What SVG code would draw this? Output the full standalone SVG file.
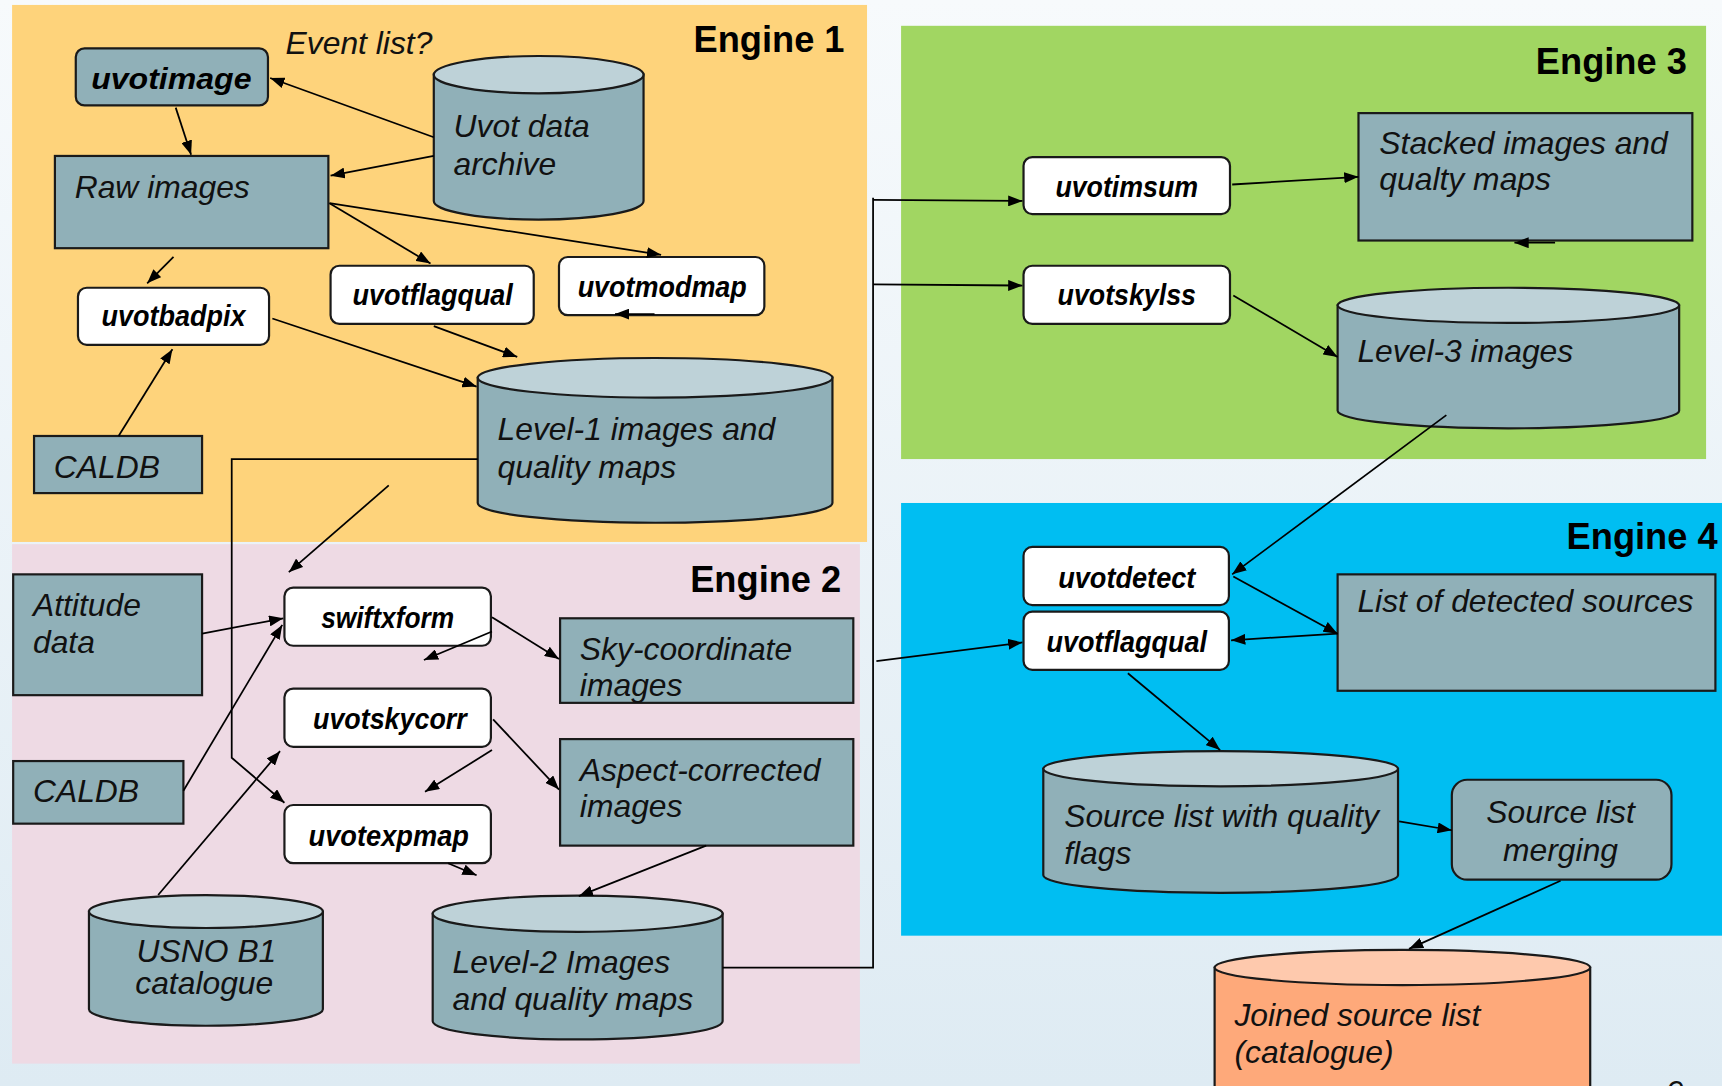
<svg xmlns="http://www.w3.org/2000/svg" width="1722" height="1086" viewBox="0 0 1722 1086">
<defs>
<linearGradient id="bg" x1="0" y1="0" x2="0" y2="1">
<stop offset="0" stop-color="#f7fafc"/>
<stop offset="1" stop-color="#deebf3"/>
</linearGradient>
<marker id="ah" viewBox="0 0 13 10" refX="13" refY="5" markerWidth="13" markerHeight="10" markerUnits="userSpaceOnUse" orient="auto">
<path d="M0,0 L13,5 L0,10 Z" fill="#000"/>
</marker>
<style>
.panel{stroke:none}
.box{fill:#90b0b8;stroke:#1a1a1a;stroke-width:2}
.proc{fill:#ffffff;stroke:#1a1a1a;stroke-width:2}
.cylb{fill:#90b0b8;stroke:#1a1a1a;stroke-width:2}
.cylt{fill:#bed2d8;stroke:#1a1a1a;stroke-width:2}
.ocylb{fill:#fea97a;stroke:#1a1a1a;stroke-width:2}
.ocylt{fill:#fec9ad;stroke:#1a1a1a;stroke-width:2}
.t{font-family:"Liberation Sans",Arial,sans-serif;font-style:italic;font-size:29px;fill:#111}
.p{font-family:"Liberation Sans",Arial,sans-serif;font-style:italic;font-weight:bold;font-size:27px;fill:#000;text-anchor:middle}
.eng{font-family:"Liberation Sans",Arial,sans-serif;font-weight:bold;font-size:33px;fill:#000;text-anchor:end}
.c{fill:none;stroke:#000;stroke-width:1.6}
.ca{fill:none;stroke:#000;stroke-width:1.6;marker-end:url(#ah)}
</style>
</defs>
<rect x="0" y="0" width="1722" height="1086" fill="url(#bg)"/>
<g transform="scale(1.09821)">
<g id="panels">
<rect id="engine1" class="panel" x="11" y="4.5" width="778.5" height="489" fill="#fed37b"/>
<rect id="engine2" class="panel" x="11" y="495.5" width="772" height="473" fill="#eedae4"/>
<rect id="engine3" class="panel" x="820.5" y="23.5" width="733" height="394.5" fill="#a1d662"/>
<rect id="engine4" class="panel" x="820.5" y="458" width="760" height="394" fill="#00bef2"/>
<text class="eng" x="769" y="47">Engine 1</text>
<text class="eng" x="766" y="539">Engine 2</text>
<text class="eng" x="1536" y="67">Engine 3</text>
<text class="eng" x="1564" y="500">Engine 4</text>
</g>

<g id="uvotimage"><rect class="box" x="69" y="44" width="175" height="52" rx="8"/><text class="p" x="156" y="81" font-size="29" textLength="146" lengthAdjust="spacingAndGlyphs">uvotimage</text></g>
<g id="eventlist"><text class="t" x="260" y="49">Event list?</text></g>
<g id="uvotarchive"><path class="cylb" d="M395,68 L395,183 A95.5,17 0 0 0 586,183 L586,68 Z"/><ellipse class="cylt" cx="490.5" cy="68" rx="95.5" ry="17"/><text class="t" x="413" y="125">Uvot data</text><text class="t" x="413" y="159">archive</text></g>
<g id="rawimages"><rect class="box" x="50" y="142" width="249" height="84"/><text class="t" x="68" y="180">Raw images</text></g>
<g id="uvotbadpix"><rect class="proc" x="71" y="262" width="174" height="52" rx="8"/><text class="p" x="158" y="297" textLength="131" lengthAdjust="spacingAndGlyphs">uvotbadpix</text></g>
<g id="uvotflagqual1"><rect class="proc" x="301" y="242" width="185" height="53" rx="8"/><text class="p" x="394" y="278" textLength="146" lengthAdjust="spacingAndGlyphs">uvotflagqual</text></g>
<g id="uvotmodmap"><rect class="proc" x="509" y="234" width="187" height="53" rx="8"/><text class="p" x="603" y="270" textLength="154" lengthAdjust="spacingAndGlyphs">uvotmodmap</text></g>
<g id="caldb1"><rect class="box" x="31" y="397" width="153" height="52"/><text class="t" x="49" y="435">CALDB</text></g>
<g id="level1"><path class="cylb" d="M435,344 L435,458 A161.5,18 0 0 0 758,458 L758,344 Z"/><ellipse class="cylt" cx="596.5" cy="344" rx="161.5" ry="18"/><text class="t" x="453" y="401">Level-1 images and</text><text class="t" x="453" y="435">quality maps</text></g>

<g id="attitude"><rect class="box" x="12" y="523" width="172" height="110"/><text class="t" x="30" y="561">Attitude</text><text class="t" x="30" y="595">data</text></g>
<g id="caldb2"><rect class="box" x="12" y="693" width="155" height="57"/><text class="t" x="30" y="730">CALDB</text></g>
<g id="swiftxform"><rect class="proc" x="259" y="535" width="188" height="53" rx="8"/><text class="p" x="353" y="572" textLength="121" lengthAdjust="spacingAndGlyphs">swiftxform</text></g>
<g id="uvotskycorr"><rect class="proc" x="259" y="627" width="188" height="53" rx="8"/><text class="p" x="355" y="664" textLength="140" lengthAdjust="spacingAndGlyphs">uvotskycorr</text></g>
<g id="uvotexpmap"><rect class="proc" x="259" y="733" width="188" height="53" rx="8"/><text class="p" x="354" y="770" textLength="146" lengthAdjust="spacingAndGlyphs">uvotexpmap</text></g>
<g id="skycoord"><rect class="box" x="510" y="563" width="267" height="77"/><text class="t" x="528" y="601">Sky-coordinate</text><text class="t" x="528" y="634">images</text></g>
<g id="aspectcorr"><rect class="box" x="510" y="673" width="267" height="97"/><text class="t" x="528" y="711">Aspect-corrected</text><text class="t" x="528" y="744">images</text></g>
<g id="usno"><path class="cylb" d="M81,830 L81,919 A106.5,15 0 0 0 294,919 L294,830 Z"/><ellipse class="cylt" cx="187.5" cy="830" rx="106.5" ry="15"/><text class="t" x="188" y="876" text-anchor="middle">USNO B1</text><text class="t" x="186" y="905" text-anchor="middle">catalogue</text></g>
<g id="level2"><path class="cylb" d="M394,832 L394,930 A132,16.5 0 0 0 658,930 L658,832 Z"/><ellipse class="cylt" cx="526" cy="832" rx="132" ry="16.5"/><text class="t" x="412" y="886">Level-2 Images</text><text class="t" x="412" y="920">and quality maps</text></g>

<g id="uvotimsum"><rect class="proc" x="932" y="143" width="188" height="52" rx="8"/><text class="p" x="1026" y="179" textLength="130" lengthAdjust="spacingAndGlyphs">uvotimsum</text></g>
<g id="uvotskylss"><rect class="proc" x="932" y="242" width="188" height="53" rx="8"/><text class="p" x="1026" y="278" textLength="126" lengthAdjust="spacingAndGlyphs">uvotskylss</text></g>
<g id="stacked"><rect class="box" x="1237" y="103" width="304" height="116"/><text class="t" x="1256" y="140">Stacked images and</text><text class="t" x="1256" y="173">qualty maps</text></g>
<g id="level3"><path class="cylb" d="M1218,278 L1218,374 A155.5,16 0 0 0 1529,374 L1529,278 Z"/><ellipse class="cylt" cx="1373.5" cy="278" rx="155.5" ry="16"/><text class="t" x="1236" y="330">Level-3 images</text></g>

<g id="uvotdetect"><rect class="proc" x="932" y="498" width="187" height="53" rx="8"/><text class="p" x="1026" y="535" textLength="125" lengthAdjust="spacingAndGlyphs">uvotdetect</text></g>
<g id="uvotflagqual4"><rect class="proc" x="932" y="557" width="187" height="53" rx="8"/><text class="p" x="1026" y="594" textLength="146" lengthAdjust="spacingAndGlyphs">uvotflagqual</text></g>
<g id="detected"><rect class="box" x="1218" y="523" width="344" height="106"/><text class="t" x="1236" y="557">List of detected sources</text></g>
<g id="sourcelist"><path class="cylb" d="M950,700 L950,797 A161.5,16 0 0 0 1273,797 L1273,700 Z"/><ellipse class="cylt" cx="1111.5" cy="700" rx="161.5" ry="16"/><text class="t" x="969" y="753">Source list with quality</text><text class="t" x="969" y="787">flags</text></g>
<g id="merging"><rect class="box" x="1322" y="710" width="200" height="91" rx="14"/><text class="t" x="1421" y="749" text-anchor="middle">Source list</text><text class="t" x="1421" y="784" text-anchor="middle">merging</text></g>
<g id="joined"><path class="ocylb" d="M1106,881 L1106,990 A171,16 0 0 0 1448,990 L1448,881 Z"/><ellipse class="ocylt" cx="1277" cy="881" rx="171" ry="16"/><text class="t" x="1124" y="934">Joined source list</text><text class="t" x="1124" y="968">(catalogue)</text></g>

<g id="connectors">
<path class="ca" d="M395,125 L246,71"/>
<path class="ca" d="M395,142 L301,160"/>
<path class="ca" d="M160,98 L174,141"/>
<path class="ca" d="M300,185 L392,240"/>
<path class="ca" d="M300,185 L602,232"/>
<path class="ca" d="M158,234 L134,258"/>
<path class="ca" d="M108,397 L157,318"/>
<path class="ca" d="M248,290 L434,352"/>
<path class="ca" d="M395,297 L471,325"/>
<path class="ca" d="M596,286 L560,286"/>
<path class="ca" d="M435,418 L211,418 L211,690 L259,731"/>
<path class="ca" d="M354,442 L263,521"/>
<path class="ca" d="M184,577 L258,563"/>
<path class="ca" d="M167,720 L257,569"/>
<path class="ca" d="M144,815 L255,684"/>
<path class="ca" d="M448,562 L509,600"/>
<path class="ca" d="M448,575 L386,601"/>
<path class="ca" d="M449,655 L509,719"/>
<path class="ca" d="M448,683 L387,721"/>
<path class="ca" d="M408,786 L434,797"/>
<path class="ca" d="M643,770 L527,816"/>
<path class="c" d="M658,881 L795,881 L795,180"/>
<path class="ca" d="M795,182 L931,183"/>
<path class="ca" d="M795,259 L931,260"/>
<path class="ca" d="M798,602 L931,585"/>
<path class="ca" d="M1122,168 L1237,161"/>
<path class="ca" d="M1416,221 L1379,221"/>
<path class="ca" d="M1123,269 L1218,325"/>
<path class="ca" d="M1317,378 L1122,523"/>
<path class="ca" d="M1123,525 L1218,577"/>
<path class="ca" d="M1218,577 L1121,583"/>
<path class="ca" d="M1027,613 L1111,683"/>
<path class="ca" d="M1274,748 L1322,756"/>
<path class="ca" d="M1421,802 L1283,864"/>
</g>
<text class="t" x="1525" y="1004" font-style="normal" font-size="32" text-anchor="middle">9</text>
</g>
</svg>
